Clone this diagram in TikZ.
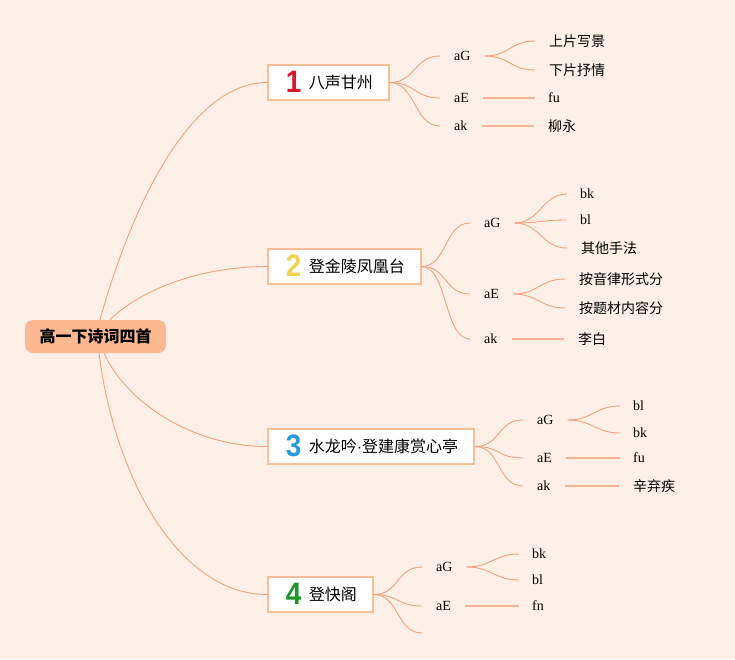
\documentclass[tikz,border=0pt]{standalone}
\usepackage{fontspec}
\setmainfont{Liberation Serif}
\newfontfamily\cjk{Noto Sans CJK SC}
\newfontfamily\numfont{Liberation Sans}
\definecolor{bg}{RGB}{254,240,230}
\definecolor{edge}{RGB}{244,160,130}
\definecolor{edgeb}{RGB}{246,180,155}
\definecolor{boxline}{RGB}{250,190,150}
\definecolor{rootfill}{RGB}{252,185,145}
\definecolor{numA}{RGB}{215,25,45}
\definecolor{numB}{RGB}{242,210,80}
\definecolor{numC}{RGB}{40,155,215}
\definecolor{numD}{RGB}{30,150,40}
\newcommand{\bignum}[2]{\makebox[20pt][c]{\smash{\raisebox{-4pt}{\numfont\bfseries\fontsize{31}{31}\selectfont\color{#1}\scalebox{0.9}[1]{#2}}}}\hspace{5pt}}
\newcommand{\middot}{{\numfont ·}}
\tikzset{
  rootbox/.style={rounded corners=8pt, fill=rootfill, minimum width=141pt, minimum height=33pt, inner sep=0pt, font=\cjk\bfseries\fontsize{16}{16}\selectfont},
  topicbox/.style={draw=boxline, line width=1.5pt, fill=white, anchor=west, minimum height=35pt, inner xsep=16pt, inner ysep=0pt, font=\cjk\fontsize{16}{16}\selectfont},
  midlabel/.style={anchor=west, inner xsep=14pt, inner ysep=2pt, font=\fontsize{14}{14}\selectfont},
  leafcjk/.style={anchor=west, inner xsep=14pt, inner ysep=2pt, font=\cjk\fontsize{14}{14}\selectfont},
  leaflat/.style={anchor=west, inner xsep=13pt, inner ysep=2pt, font=\fontsize{14}{14}\selectfont},
  curveline/.style={draw=edge, line width=0.9pt},
  straightline/.style={draw=edgeb, line width=1.6pt},
}
\begin{document}
\begin{tikzpicture}[x=1pt,y=-1pt]
\fill[bg] (0,0) rectangle (735,659);
\useasboundingbox (0,0) rectangle (735,659);

% root
\node[rootbox] (root) at (95.5,336.5) {高一下诗词四首};
\coordinate (r1) at ([xshift=4.5pt]root.north);
\coordinate (r2) at ([xshift=14.5pt]root.north);
\coordinate (r3) at ([xshift=8.5pt]root.south);
\coordinate (r4) at ([xshift=3.5pt]root.south);

% topic boxes
\node[topicbox] (b1) at (267,82.5) {\bignum{numA}{1}八声甘州};
\node[topicbox] (b2) at (267,266.5) {\bignum{numB}{2}登金陵凤凰台};
\node[topicbox] (b3) at (267,446.5) {\bignum{numC}{3}水龙吟\middot 登建康赏心亭};
\node[topicbox] (b4) at (267,594.5) {\bignum{numD}{4}登快阁};

\draw[curveline] (r1) .. controls (133,201) and (192,82.5) .. (b1.west);
\draw[curveline] (r2) .. controls (140,290) and (200,266.5) .. (b2.west);
\draw[curveline] (r3) .. controls (125,400) and (190,446.5) .. (b3.west);
\draw[curveline] (r4) .. controls (115,480) and (180,594.5) .. (b4.west);

% branch 1
\node[midlabel] (m1G) at (440,56) {aG};
\node[midlabel] (m1E) at (440,98) {aE};
\node[midlabel] (m1k) at (440,126) {ak};
\node[leafcjk] (l1a) at (535,41) {上片写景};
\node[leafcjk] (l1b) at (535,70) {下片抒情};
\node[leaflat] (l1E) at (535,98) {fu};
\node[leafcjk] (l1k) at (534,126) {柳永};
\foreach \m in {m1G,m1E,m1k}
  \draw[curveline] (b1.east) .. controls +(26,0) and +(-26,0) .. (\m.west);
\foreach \l in {l1a,l1b}
  \draw[curveline] (m1G.east) .. controls +(25,0) and +(-25,0) .. (\l.west);
\draw[straightline] (m1E.east) -- (l1E.west);
\draw[straightline] (m1k.east) -- (l1k.west);

% branch 2
\node[midlabel] (m2G) at (470,223) {aG};
\node[midlabel] (m2E) at (470,294) {aE};
\node[midlabel] (m2k) at (470,339) {ak};
\node[leaflat] (l2a) at (567,194) {bk};
\node[leaflat] (l2b) at (567,220) {bl};
\node[leafcjk] (l2c) at (567,248) {其他手法};
\node[leafcjk] (l2d) at (565,279) {按音律形式分};
\node[leafcjk] (l2e) at (565,308) {按题材内容分};
\node[leafcjk] (l2k) at (564,339) {李白};
\foreach \m in {m2G,m2E,m2k}
  \draw[curveline] (b2.east) .. controls +(26,0) and +(-26,0) .. (\m.west);
\foreach \l in {l2a,l2b,l2c}
  \draw[curveline] (m2G.east) .. controls +(25,0) and +(-25,0) .. (\l.west);
\foreach \l in {l2d,l2e}
  \draw[curveline] (m2E.east) .. controls +(25,0) and +(-25,0) .. (\l.west);
\draw[straightline] (m2k.east) -- (l2k.west);

% branch 3
\node[midlabel] (m3G) at (523,420) {aG};
\node[midlabel] (m3E) at (523,458) {aE};
\node[midlabel] (m3k) at (523,486) {ak};
\node[leaflat] (l3a) at (620,406) {bl};
\node[leaflat] (l3b) at (620,433) {bk};
\node[leaflat] (l3E) at (620,458) {fu};
\node[leafcjk] (l3k) at (619,486) {辛弃疾};
\foreach \m in {m3G,m3E,m3k}
  \draw[curveline] (b3.east) .. controls +(26,0) and +(-26,0) .. (\m.west);
\foreach \l in {l3a,l3b}
  \draw[curveline] (m3G.east) .. controls +(25,0) and +(-25,0) .. (\l.west);
\draw[straightline] (m3E.east) -- (l3E.west);
\draw[straightline] (m3k.east) -- (l3k.west);

% branch 4
\node[midlabel] (m4G) at (422,567) {aG};
\node[midlabel] (m4E) at (422,606) {aE};
\coordinate (m4x) at (422,633);
\node[leaflat] (l4a) at (519,554) {bk};
\node[leaflat] (l4b) at (519,580) {bl};
\node[leaflat] (l4E) at (519,606) {fn};
\foreach \m in {m4G.west,m4E.west,m4x}
  \draw[curveline] (b4.east) .. controls +(26,0) and +(-26,0) .. (\m);
\foreach \l in {l4a,l4b}
  \draw[curveline] (m4G.east) .. controls +(25,0) and +(-25,0) .. (\l.west);
\draw[straightline] (m4E.east) -- (l4E.west);
\end{tikzpicture}
\end{document}
